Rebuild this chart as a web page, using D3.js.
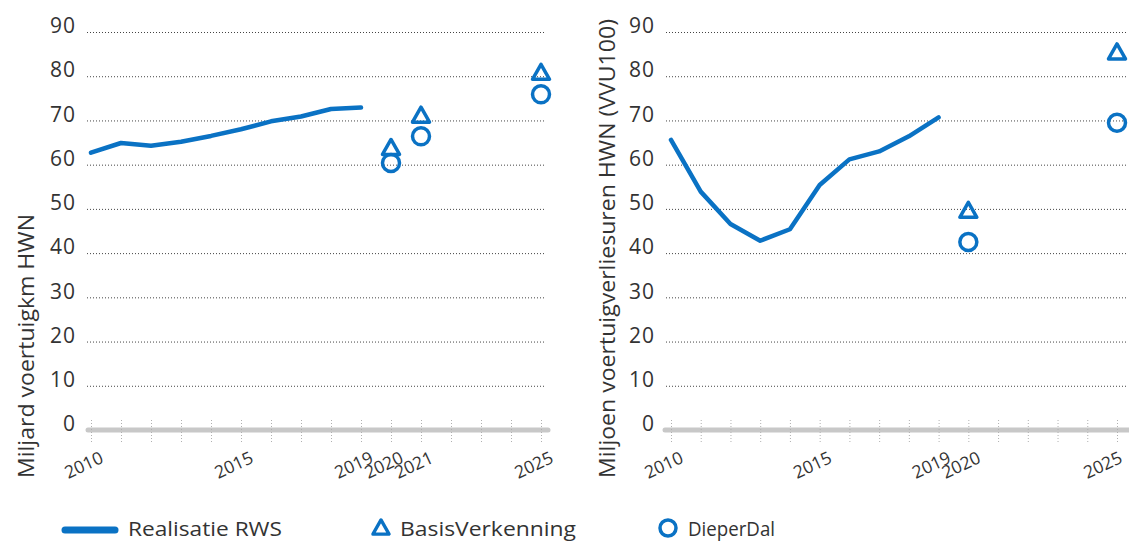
<!DOCTYPE html>
<html><head><meta charset="utf-8">
<script src="https://cdn.jsdelivr.net/npm/d3@7"></script>
<style>
body{margin:0;background:#fff;}
text{font-family:"Open Sans","Noto Sans",sans-serif;}
</style></head>
<body><svg id="c" width="1129" height="542"></svg>
<script>
// ---- data ----
const realisatieYears = [2010,2011,2012,2013,2014,2015,2016,2017,2018,2019];
const realisatieKm = [62.7,64.9,64.3,65.2,66.5,68.0,69.8,70.9,72.6,72.9];
const scenarioKmYears = [2020,2021,2025];
const basisKm = [64.0,71.3,81.0];
const dieperKm = [60.4,66.4,75.9];
const realisatieVvu = [65.6,53.9,46.6,42.8,45.4,55.4,61.2,63.0,66.4,70.7];
const scenarioVvuYears = [2020,2025];
const basisVvu = [49.8,85.6];
const dieperVvu = [42.5,69.5];
const yTicks = [0,10,20,30,40,50,60,70,80,90];
const allYears = d3.range(2010,2026);
const xLabelsLeft = [2010,2015,2019,2020,2021,2025];
const xLabelsRight = [2010,2015,2019,2020,2025];
const titleLeft = "Miljard voertuigkm HWN";
const titleRight = "Miljoen voertuigverliesuren HWN (VVU100)";
const legendItems = ["Realisatie RWS","BasisVerkenning","DieperDal"];

const BLUE = "#0a72c4", TEXT = "#333";
const svg = d3.select("#c");
const triPath = "M0,-7.5L8.5,7.5L-8.5,7.5Z";

function panel(cfg){
  const x = d3.scaleLinear().domain([2010,2025]).range([cfg.x0,cfg.x1]);
  const y = d3.scaleLinear().domain([0,90]).range([430,32]);
  const g = svg.append("g");
  // y axis with gridlines
  const ya = g.append("g").attr("transform",`translate(${cfg.g0},0)`)
    .call(d3.axisLeft(y).tickValues(yTicks).tickSize(-(cfg.g1-cfg.g0)).tickPadding(11));
  ya.select(".domain").remove();
  ya.selectAll(".tick line").attr("stroke","#444").attr("stroke-width",1).attr("stroke-dasharray","1,2")
    .attr("opacity",d=>d===0?0:1);
  ya.selectAll(".tick text").attr("font-size",21).attr("fill",TEXT).attr("dy","0.32em")
    .attr("letter-spacing","1px")
    .attr("transform","translate(0,-6)");
  // baseline
  g.append("line").attr("x1",cfg.b0).attr("x2",cfg.b1).attr("y1",y(0)).attr("y2",y(0))
    .attr("stroke","#c8c8c8").attr("stroke-width",5).attr("stroke-linecap","round");
  // x ticks dotted
  const xa = g.append("g").attr("transform",`translate(0,${y(0)})`)
    .call(d3.axisBottom(x).tickValues(allYears).tickSize(0).tickFormat(""));
  xa.select(".domain").remove();
  xa.selectAll(".tick line").attr("y1",-10).attr("y2",13).attr("stroke","#b0b0b0")
    .attr("stroke-dasharray","1,2");
  // x labels
  const xl = g.append("g").attr("transform",`translate(0,${y(0)})`)
    .call(d3.axisBottom(x).tickValues(cfg.labels).tickSize(0).tickFormat(d3.format("d")));
  xl.select(".domain").remove();
  xl.selectAll(".tick text").attr("font-size",17.5).attr("fill",TEXT)
    .attr("text-anchor","end").attr("dy",0).attr("y",0)
    .attr("transform",d=>`translate(${Math.min(13, 1123 - x(d))},32) rotate(-25)`);
  // title
  g.append("text").attr("transform",`translate(${cfg.tx},478) rotate(-90)`)
    .attr("font-size",21).attr("fill",TEXT)
    .attr("textLength",cfg.tlen).attr("lengthAdjust","spacingAndGlyphs").text(cfg.title);
  // line
  const line = d3.line().x((d,i)=>x(realisatieYears[i])).y(d=>y(d));
  g.append("path").datum(cfg.real).attr("d",line).attr("fill","none")
    .attr("stroke",BLUE).attr("stroke-width",4.5).attr("stroke-linejoin","round").attr("stroke-linecap","round");
  // scenarios
  g.selectAll(".tri").data(cfg.basis).join("path").attr("d",triPath)
    .attr("transform",(d,i)=>`translate(${x(cfg.sYears[i])},${y(d)})`)
    .attr("fill","none").attr("stroke",BLUE).attr("stroke-width",3.5).attr("stroke-linejoin","round");
  g.selectAll(".circ").data(cfg.dieper).join("circle")
    .attr("cx",(d,i)=>x(cfg.sYears[i])).attr("cy",d=>y(d)).attr("r",8.5)
    .attr("fill","none").attr("stroke",BLUE).attr("stroke-width",3.5);
}

panel({x0:91,x1:541,g0:87,g1:546,b0:88,b1:548,labels:xLabelsLeft,title:titleLeft,tx:34,tlen:264,
  real:realisatieKm,sYears:scenarioKmYears,basis:basisKm,dieper:dieperKm});
panel({x0:671,x1:1117,g0:666,g1:1127,b0:665,b1:1129,labels:xLabelsRight,title:titleRight,tx:615,tlen:459,
  real:realisatieVvu,sYears:scenarioVvuYears,basis:basisVvu,dieper:dieperVvu});

// legend
const lg = svg.append("g");
lg.append("line").attr("x1",65).attr("x2",115).attr("y1",530).attr("y2",530)
  .attr("stroke",BLUE).attr("stroke-width",7).attr("stroke-linecap","round");
lg.append("path").attr("d",triPath).attr("transform","translate(381,527) scale(0.95)")
  .attr("fill","none").attr("stroke",BLUE).attr("stroke-width",3.5).attr("stroke-linejoin","round");
lg.append("circle").attr("cx",668).attr("cy",528).attr("r",8).attr("fill","none")
  .attr("stroke",BLUE).attr("stroke-width",3.5);
const lx = [128,400,688];
const lw = [154,176,87];
lg.selectAll(".lt").data(legendItems).join("text").attr("x",(d,i)=>lx[i]).attr("y",536)
  .attr("font-size",20).attr("fill",TEXT)
  .attr("textLength",(d,i)=>lw[i]).attr("lengthAdjust","spacingAndGlyphs").text(d=>d);
</script></body></html>
